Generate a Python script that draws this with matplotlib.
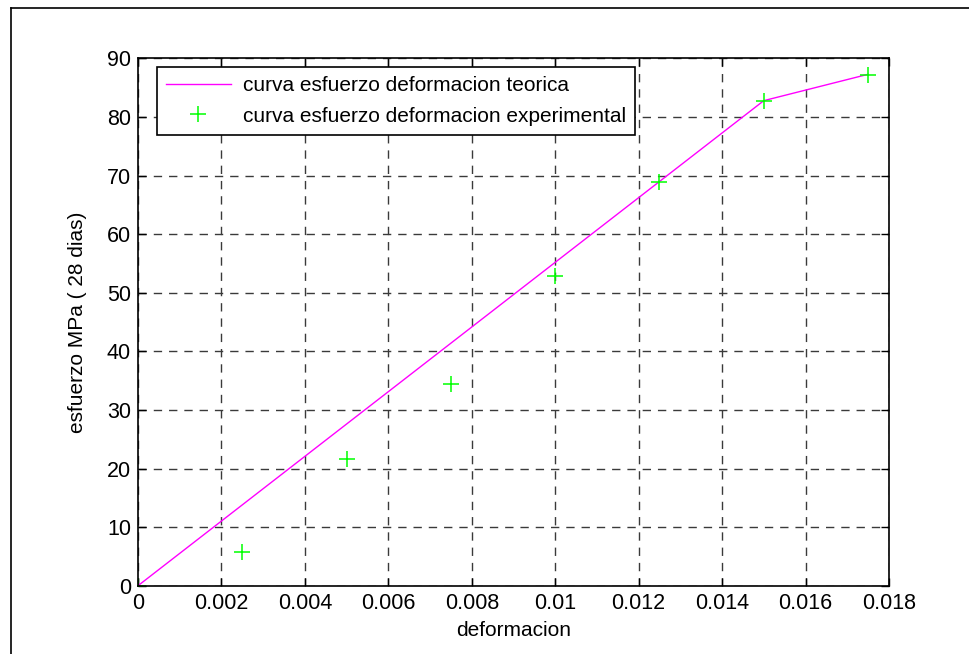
import numpy as np
import matplotlib.pyplot as plt
from matplotlib.lines import Line2D

plt.rcParams['font.family'] = ['Liberation Sans', 'DejaVu Sans']

# data
deformacion = [0, 0.0025, 0.005, 0.0075, 0.01, 0.0125, 0.015, 0.0175]
esfuerzo_teorico = [0, 13.8, 27.6, 41.4, 55.2, 69.0, 82.8, 87.3]
esfuerzo_exp = [0, 5.7, 21.7, 34.4, 52.9, 68.9, 82.8, 87.2]

xticks = [0, 0.002, 0.004, 0.006, 0.008, 0.01, 0.012, 0.014, 0.016, 0.018]
xticklabels = ["0", "0.002", "0.004", "0.006", "0.008", "0.01", "0.012", "0.014", "0.016", "0.018"]
yticks = [0, 10, 20, 30, 40, 50, 60, 70, 80, 90]

fig = plt.figure(figsize=(9.69, 6.54), dpi=100)
ax = fig.add_axes([0.1424, 0.1044, 0.775, 0.8062])

ax.plot(deformacion, esfuerzo_teorico, color='#ff00ff', lw=1,
        label='curva esfuerzo deformacion teorica')
ax.plot(deformacion, esfuerzo_exp, '+', color='#00ff00', ms=11, mew=1.1,
        linestyle='none', label='curva esfuerzo deformacion experimental')

ax.set_xlim(0, 0.018)
ax.set_ylim(0, 90)
ax.set_xticks(xticks)
ax.set_xticklabels(xticklabels)
ax.set_yticks(yticks)
ax.tick_params(direction='in', length=6, width=1, top=True, right=True,
               labelsize=15.5, pad=5)
ax.grid(True, color='#3a3a3a', linestyle=(0, (6, 5)), linewidth=1)
for s in ax.spines.values():
    s.set_linewidth(1.2)

ax.set_xlabel('deformacion', fontsize=15, labelpad=5)
ax.set_ylabel('esfuerzo MPa ( 28 dias)', fontsize=15, labelpad=14)

leg = ax.legend(loc='upper left', fontsize=15, fancybox=False, framealpha=1,
                edgecolor='black', bbox_to_anchor=(0.025, 0.984),
                borderaxespad=0, handlelength=3.1, handletextpad=0.58,
                borderpad=0.45, labelspacing=0.54)
leg.get_frame().set_linewidth(1.2)

# outer frame (top and left edges visible)
fig.add_artist(Line2D([11 / 969, 1], [1 - 8 / 654, 1 - 8 / 654],
                      color='black', lw=1.2, transform=fig.transFigure))
fig.add_artist(Line2D([11 / 969, 11 / 969], [0, 1 - 8 / 654],
                      color='black', lw=1.2, transform=fig.transFigure))

fig.savefig('out.png', dpi=100)
